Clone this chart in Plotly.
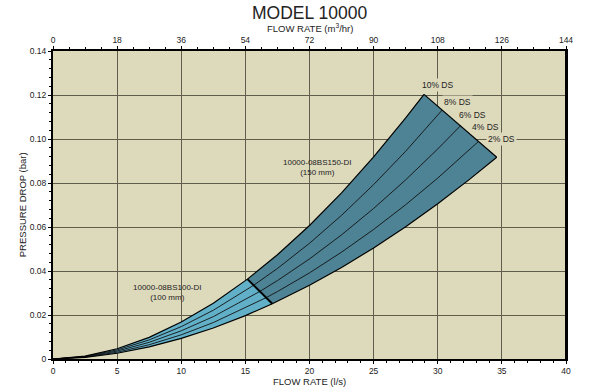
import plotly.graph_objects as go

# ---- data ----
# flow rate (l/s) and pressure drop (bar) for each DS curve
Q10 = [0, 2.5, 5, 7.5, 10, 12.5, 15.16, 17.5, 20, 22.5, 25, 27.5, 28.93]
P10 = [0, 0.00128, 0.00464, 0.00984, 0.01679, 0.02538, 0.0363, 0.0474, 0.0607, 0.0755, 0.0919, 0.1096, 0.1203]

Q8 = [0, 2.5, 5, 7.5, 10, 12.5, 15.65, 17.5, 20, 22.5, 25, 27.5, 30.35]
P8 = [0, 0.00115, 0.00412, 0.00868, 0.01472, 0.02217, 0.03353, 0.04115, 0.0526, 0.06531, 0.07928, 0.09445, 0.1132]

Q6 = [0, 2.5, 5, 7.5, 10, 12.5, 16.13, 17.5, 20, 22.5, 25, 27.5, 30, 31.77]
P6 = [0, 0.00102, 0.00361, 0.00758, 0.01282, 0.01926, 0.03072, 0.03564, 0.04549, 0.05643, 0.06843, 0.08144, 0.09548, 0.106]

Q4 = [0, 2.5, 5, 7.5, 10, 12.5, 16.62, 17.5, 20, 22.5, 25, 27.5, 30, 33.18]
P4 = [0, 0.00087, 0.00309, 0.00649, 0.01099, 0.01656, 0.02789, 0.03066, 0.03914, 0.04857, 0.05889, 0.07013, 0.08224, 0.0989]

Q2 = [0, 2.5, 5, 7.5, 10, 12.5, 15, 17.1, 20, 22.5, 25, 27.5, 30, 32.5, 34.6]
P2 = [0, 0.00073, 0.00262, 0.00551, 0.00936, 0.01411, 0.01972, 0.0251, 0.03348, 0.04158, 0.05048, 0.06013, 0.07056, 0.08175, 0.0917]

SPLIT10 = 6   # index where 100 mm ends on the 10% curve
SPLIT2 = 7    # index where 100 mm ends on the 2% curve

ds_labels = ["10% DS", "8% DS", "6% DS", "4% DS", "2% DS"]
ds_label_x = [30.0, 31.55, 32.7, 33.75, 35.0]
ds_label_y = [0.1246, 0.1167, 0.1109, 0.1055, 0.1002]

region_labels = ["10000-08BS150-DI<br>(150 mm)", "10000-08BS100-DI<br>(100 mm)"]
region_label_x = [20.6, 8.9]
region_label_y = [0.0869, 0.0301]

x_ticks = [0, 5, 10, 15, 20, 25, 30, 35, 40]
x2_ticks = [0, 18, 36, 54, 72, 90, 108, 126, 144]
y_ticks = [0, 0.02, 0.04, 0.06, 0.08, 0.10, 0.12, 0.14]
y_ticktext = ["0", "0.02", "0.04", "0.06", "0.08", "0.10", "0.12", "0.14"]

BG = "#ddd9bb"
LIGHT = "#62b0c8"
DARK = "#4d8394"
GRID = "#5f5d4c"
TXT = "#222222"
FONT = "Liberation Sans"

fig = go.Figure()

# 100 mm region
fig.add_trace(go.Scatter(
    x=Q10[:SPLIT10 + 1] + Q2[:SPLIT2 + 1][::-1],
    y=P10[:SPLIT10 + 1] + P2[:SPLIT2 + 1][::-1],
    fill="toself", fillcolor=LIGHT, mode="lines",
    line=dict(width=0), hoverinfo="skip", showlegend=False))
# 150 mm region
fig.add_trace(go.Scatter(
    x=Q10[SPLIT10:] + Q2[SPLIT2:][::-1] + [Q10[SPLIT10]],
    y=P10[SPLIT10:] + P2[SPLIT2:][::-1] + [P10[SPLIT10]],
    fill="toself", fillcolor=DARK, mode="lines",
    line=dict(width=0), hoverinfo="skip", showlegend=False))

for qs, ps in [(Q8, P8), (Q6, P6), (Q4, P4)]:
    fig.add_trace(go.Scatter(x=qs, y=ps, mode="lines",
                             line=dict(color="#111111", width=0.9),
                             hoverinfo="skip", showlegend=False))
for qs, ps in [(Q10, P10), (Q2, P2)]:
    fig.add_trace(go.Scatter(x=qs, y=ps, mode="lines",
                             line=dict(color="#000000", width=1.2),
                             hoverinfo="skip", showlegend=False))
# end line and divider
fig.add_trace(go.Scatter(x=[Q10[-1], Q2[-1]], y=[P10[-1], P2[-1]], mode="lines",
                         line=dict(color="#000000", width=1.2),
                         hoverinfo="skip", showlegend=False))
fig.add_trace(go.Scatter(x=[Q10[SPLIT10], Q2[SPLIT2]], y=[P10[SPLIT10], P2[SPLIT2]],
                         mode="lines", line=dict(color="#000000", width=2),
                         hoverinfo="skip", showlegend=False))
# dummy trace for the top axis
fig.add_trace(go.Scatter(x=[0, 144], y=[0, 0], xaxis="x2", mode="lines",
                         line=dict(width=0), opacity=0, hoverinfo="skip",
                         showlegend=False))

for t, x, y in zip(ds_labels, ds_label_x, ds_label_y):
    fig.add_annotation(x=x, y=y, text=t, showarrow=False,
                       font=dict(family=FONT, size=8.5, color=TXT),
                       bgcolor=BG, borderpad=1)
for t, x, y in zip(region_labels, region_label_x, region_label_y):
    fig.add_annotation(x=x, y=y, text=t, showarrow=False,
                       font=dict(family=FONT, size=8, color=TXT))

# titles as annotations (paper coords)
fig.add_annotation(text="MODEL 10000", xref="paper", yref="paper", x=0.5, y=1.125,
                   xanchor="center", yanchor="middle", showarrow=False,
                   font=dict(family=FONT, size=17.5, color=TXT))
fig.add_annotation(text="FLOW RATE (m<sup>3</sup>/hr)", xref="paper", yref="paper",
                   x=0.5, y=1.074, xanchor="center", yanchor="middle", showarrow=False,
                   font=dict(family=FONT, size=9.5, color=TXT))
fig.add_annotation(text="FLOW RATE (l/s)", xref="paper", yref="paper",
                   x=0.5, y=-0.072, xanchor="center", yanchor="middle", showarrow=False,
                   font=dict(family=FONT, size=9.5, color=TXT))
fig.add_annotation(text="PRESSURE DROP (bar)", xref="paper", yref="paper",
                   x=-0.06, y=0.5, xanchor="center", yanchor="middle", showarrow=False,
                   textangle=-90, font=dict(family=FONT, size=9.5, color=TXT))

axis_common = dict(showline=True, linecolor="#000000", linewidth=2,
                   ticks="outside", tickcolor="#000000", ticklen=3,
                   tickfont=dict(family=FONT, size=8.5, color=TXT),
                   zeroline=False, automargin=False)

fig.update_layout(
    width=600, height=388,
    margin=dict(l=52.5, r=33.5, t=51, b=28.7),
    paper_bgcolor="white", plot_bgcolor=BG,
    xaxis=dict(range=[0, 40], tickvals=x_ticks, showgrid=True,
               gridcolor=GRID, gridwidth=0.8, mirror=False,
               minor=dict(dtick=1, ticks="outside", ticklen=2, tickcolor="#000000",
                          showgrid=False),
               **axis_common),
    xaxis2=dict(range=[0, 144], tickvals=x2_ticks, overlaying="x", side="top",
                showgrid=False,
                minor=dict(dtick=4.5, ticks="outside", ticklen=2, tickcolor="#000000",
                           showgrid=False),
                **axis_common),
    yaxis=dict(range=[0, 0.14], tickvals=y_ticks, ticktext=y_ticktext,
               showgrid=True, gridcolor=GRID, gridwidth=0.8, mirror=True,
               minor=dict(dtick=0.004, ticks="outside", ticklen=2, tickcolor="#000000",
                          showgrid=False),
               **axis_common),
)
# right border
fig.add_shape(type="line", xref="paper", yref="paper", x0=1, x1=1, y0=0, y1=1,
              line=dict(color="#000000", width=2))

fig.write_html("out.html",
               config={"displayModeBar": False},
               post_script="document.body.style.margin='0';"
                           "document.body.style.overflow='hidden';")
